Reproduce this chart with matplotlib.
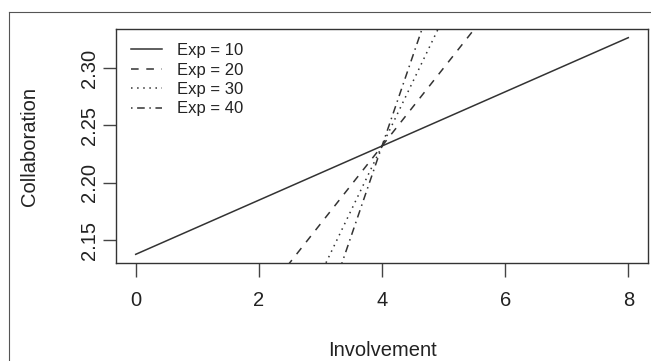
#!/usr/bin/env python3
"""Simple slopes of collaboration on involvement at four experience levels."""

import matplotlib

matplotlib.use("Agg")
import matplotlib.pyplot as plt  # noqa: E402
from matplotlib.lines import Line2D  # noqa: E402

# values (lines evaluated at involvement = 0 and 8)
involvement = [0, 8]
exp_labels = ["Exp = 10", "Exp = 20", "Exp = 30", "Exp = 40"]
collab_exp10 = [2.1375, 2.3265]
collab_exp20 = [1.960, 2.504]
collab_exp30 = [1.784, 2.680]
collab_exp40 = [1.604, 2.860]
x_ticks = [0, 2, 4, 6, 8]
y_ticks = [2.15, 2.20, 2.25, 2.30]
y_tick_labels = ["2.15", "2.20", "2.25", "2.30"]

W, H = 651, 361
INK = "#222222"


def main():
    plt.rcParams["font.family"] = ["Liberation Sans", "DejaVu Sans"]
    fig = plt.figure(figsize=(W / 100, H / 100), dpi=100)
    ax = fig.add_axes([116 / W, 1 - 263 / H, (648 - 116) / W, (263 - 29) / H])

    styles = ["-", (0, (5, 5)), (0, (1, 3)), (0, (1, 3, 5, 3))]
    series = [collab_exp10, collab_exp20, collab_exp30, collab_exp40]
    for ys, ls, lab in zip(series, styles, exp_labels):
        ax.plot(involvement, ys, color="#333333", linestyle=ls, linewidth=1.1, label=lab)

    # R style 4% padding around the Exp = 10 line range
    lo, hi = collab_exp10
    pad = 0.04 * (hi - lo)
    ax.set_ylim(lo - pad, hi + pad)
    ax.set_xlim(-0.32, 8.32)

    ax.set_xticks(x_ticks)
    ax.set_xticklabels([str(t) for t in x_ticks])
    ax.set_yticks(y_ticks)
    ax.set_yticklabels(y_tick_labels, rotation=90, va="center")
    ax.tick_params(axis="x", length=10, width=1.0, color="#444444",
                   labelsize=14.5, labelcolor=INK, pad=10)
    ax.tick_params(axis="y", length=9.5, width=1.0, color="#444444",
                   labelsize=14.5, labelcolor=INK, pad=3)
    for sp in ax.spines.values():
        sp.set_color("#333333")
        sp.set_linewidth(1.0)

    fig.text(382 / W, 1 - 350 / H, "Involvement", ha="center", va="center",
             fontsize=14.5, color=INK)
    fig.text(30 / W, 1 - 146 / H, "Collaboration", ha="center", va="center",
             rotation=90, fontsize=14.5, color=INK)

    ax.legend(loc="upper left", bbox_to_anchor=(131 / W, 1 - 43 / H),
              bbox_transform=fig.transFigure, frameon=False, fontsize=12,
              borderpad=0, borderaxespad=0, handlelength=1.85,
              handletextpad=0.9, labelspacing=0.27, labelcolor=INK)

    # thin frame of the screenshot
    frame = dict(color="#555555", linewidth=0.8, transform=fig.transFigure)
    fig.add_artist(Line2D([9 / W, 1], [1 - 12 / H, 1 - 12 / H], **frame))
    fig.add_artist(Line2D([9 / W, 9 / W], [0, 1 - 12 / H], **frame))

    fig.savefig("out.png", dpi=100)


if __name__ == "__main__":
    main()
